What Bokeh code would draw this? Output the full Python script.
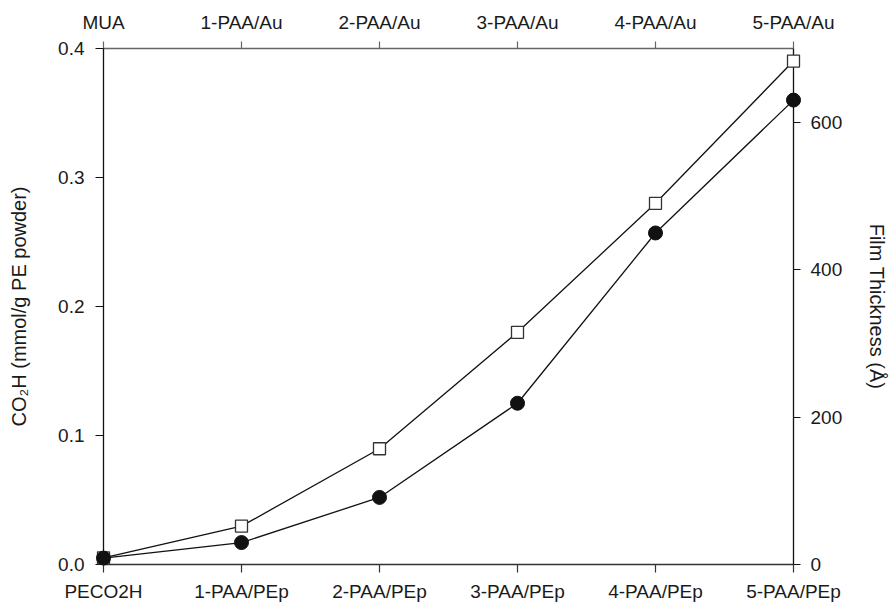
from bokeh.plotting import figure
from bokeh.models import (Range1d, LinearAxis, FixedTicker, NumeralTickFormatter,
                          ColumnDataSource)
from bokeh.embed import file_html
from bokeh.resources import INLINE

# Layer positions (shared by both x axes)
positions = [0, 1, 2, 3, 4, 5]
pe_labels = ["PECO2H", "1-PAA/PEp", "2-PAA/PEp", "3-PAA/PEp", "4-PAA/PEp", "5-PAA/PEp"]
au_labels = ["MUA", "1-PAA/Au", "2-PAA/Au", "3-PAA/Au", "4-PAA/Au", "5-PAA/Au"]

# CO2H content on PE powder (mmol/g), left axis
co2h = [0.005, 0.017, 0.052, 0.125, 0.257, 0.360]
# Film thickness on gold (Angstrom), right axis
thickness = [9, 52, 157, 315, 490, 683]

left_ticks = [0.0, 0.1, 0.2, 0.3, 0.4]
right_ticks = [0, 200, 400, 600]

FONT = "Liberation Sans"
TXT = "#1a1a1a"

p = figure(width=891, height=605, output_backend="svg", toolbar_location=None,
           x_range=Range1d(0, 5), y_range=Range1d(0, 0.4),
           min_border_left=103, min_border_right=93, min_border_top=48,
           min_border_bottom=41, x_axis_location=None, y_axis_location=None)
p.extra_y_ranges = {"thk": Range1d(0, 700)}
p.grid.visible = False
p.outline_line_color = None
p.background_fill_color = "white"
p.border_fill_color = "white"


def style_axis(ax, line_color):
    ax.axis_line_color = line_color
    ax.axis_line_width = 1.3
    ax.major_tick_line_color = line_color
    ax.major_tick_line_width = 1.2
    ax.major_tick_in = 0
    ax.major_tick_out = 8
    ax.minor_tick_line_color = None
    ax.major_label_text_font = FONT
    ax.major_label_text_font_size = "19px"
    ax.major_label_text_color = TXT
    ax.axis_label_text_font = FONT
    ax.axis_label_text_font_size = "20px"
    ax.axis_label_text_font_style = "normal"
    ax.axis_label_text_color = TXT


bottom = LinearAxis(ticker=FixedTicker(ticks=positions),
                    major_label_overrides={i: s for i, s in zip(positions, pe_labels)})
style_axis(bottom, "#333333")
bottom.major_label_standoff = 8
p.add_layout(bottom, "below")

top = LinearAxis(ticker=FixedTicker(ticks=positions),
                 major_label_overrides={i: s for i, s in zip(positions, au_labels)})
style_axis(top, "#666666")
top.major_tick_out = 7
top.major_label_standoff = 9
p.add_layout(top, "above")

left = LinearAxis(ticker=FixedTicker(ticks=left_ticks),
                  formatter=NumeralTickFormatter(format="0.0"),
                  axis_label="CO₂H (mmol/g PE powder)")
style_axis(left, "#111111")
left.major_label_standoff = 11
left.axis_label_standoff = 25
p.add_layout(left, "left")

right = LinearAxis(y_range_name="thk", ticker=FixedTicker(ticks=right_ticks),
                   axis_label="Film Thickness (Å)")
style_axis(right, "#111111")
right.major_tick_out = 7
right.major_label_standoff = 10
right.axis_label_standoff = 21
p.add_layout(right, "right")

src = ColumnDataSource(dict(x=positions, co2h=co2h, thk=thickness))

# connecting lines
p.line("x", "thk", source=src, y_range_name="thk", line_color="#111111",
       line_width=1.3, level="overlay")
p.line("x", "co2h", source=src, line_color="#111111", line_width=1.3,
       level="overlay")

# open squares: film thickness
p.scatter("x", "thk", source=src, y_range_name="thk", marker="square", size=12,
          fill_color="white", line_color="#333333", line_width=1.3, level="overlay")
# filled circles: CO2H content
p.scatter("x", "co2h", source=src, marker="circle", size=14,
          fill_color="#111111", line_color="#111111", level="overlay")

open("out.html", "w").write(file_html(p, INLINE))
